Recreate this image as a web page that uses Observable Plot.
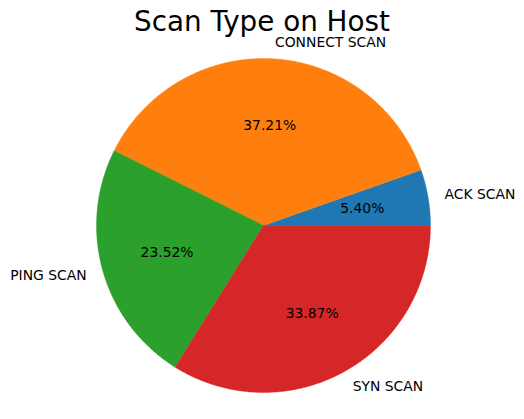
<!DOCTYPE html>
<html>
<head>
<meta charset="utf-8">
<script src="https://cdn.jsdelivr.net/npm/d3@7"></script>
<script src="https://cdn.jsdelivr.net/npm/@observablehq/plot@0.6"></script>
<style>
  html, body { margin: 0; padding: 0; background: #fff; }
  #wrap { width: 524px; height: 419px; position: relative; font-family: "DejaVu Sans", sans-serif; }
  #title { height: 40px; width: 524px; text-align: center; font-size: 27.8px; line-height: 44px; color: #000; padding-left: 0px; box-sizing: border-box; }
  svg { display: block; }
</style>
</head>
<body>
<div id="wrap">
  <div id="title">Scan Type on Host</div>
  <div id="chart"></div>
</div>
<script>
const categories = ["ACK SCAN", "CONNECT SCAN", "PING SCAN", "SYN SCAN"];
const percents = [5.40, 37.21, 23.52, 33.87];
const colors = ["#1f77b4", "#ff7f0e", "#2ca02c", "#d62728"];

// Build slice polygons (matplotlib: start at 0°, counter-clockwise)
const total = d3.sum(percents);
const slices = [];
const labels = [];
let acc = 0;
categories.forEach((name, i) => {
  const a0 = acc / total * 2 * Math.PI;
  acc += percents[i];
  const a1 = acc / total * 2 * Math.PI;
  const n = Math.max(2, Math.ceil((a1 - a0) / (Math.PI / 360)));
  slices.push({name, x: 0, y: 0});
  for (let k = 0; k <= n; k++) {
    const a = a0 + (a1 - a0) * k / n;
    slices.push({name, x: Math.cos(a), y: Math.sin(a)});
  }
  slices.push({name, x: 0, y: 0});
  const am = (a0 + a1) / 2;
  labels.push({
    name,
    pct: percents[i].toFixed(2) + "%",
    lx: 1.1 * Math.cos(am), ly: 1.1 * Math.sin(am),
    px: 0.6 * Math.cos(am), py: 0.6 * Math.sin(am)
  });
});

const W = 524, H = 379, R = 167, CX = 263, CY = 185;
const font = "DejaVu Sans, sans-serif";

const chart = Plot.plot({
  width: W,
  height: H,
  margin: 0,
  style: {fontFamily: font, background: "#fff", overflow: "visible"},
  x: {domain: [-CX / R, (W - CX) / R], range: [0, W], axis: null},
  y: {domain: [-(H - CY) / R, CY / R], range: [H, 0], axis: null},
  color: {domain: categories, range: colors},
  marks: [
    Plot.line(slices, {x: "x", y: "y", z: "name", fill: "name", stroke: "name", strokeWidth: 0.4, curve: "linear"}),
    Plot.text(labels.filter(d => d.lx >= 0), {x: "lx", y: "ly", text: "name", textAnchor: "start", fontSize: 13.9, fill: "#000", fontFamily: font}),
    Plot.text(labels.filter(d => d.lx < 0), {x: "lx", y: "ly", text: "name", textAnchor: "end", fontSize: 13.9, fill: "#000", fontFamily: font}),
    Plot.text(labels, {x: "px", y: "py", text: "pct", textAnchor: "middle", fontSize: 13.9, fill: "#000", fontFamily: font})
  ]
});
document.getElementById("chart").appendChild(chart);
</script>
</body>
</html>
